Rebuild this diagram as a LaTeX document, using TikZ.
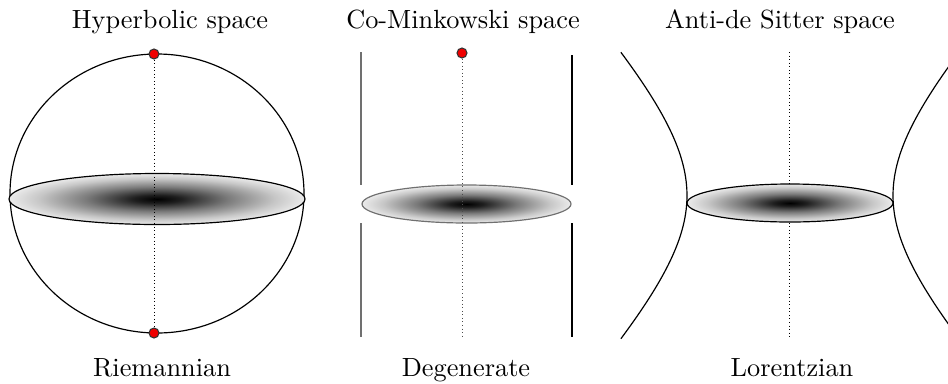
\documentclass[tikz,border=0pt]{standalone}
\usepackage{xcolor}
\usepackage{tikz}
\definecolor{GMDot}{HTML}{F00000}
\definecolor{GMGrey}{HTML}{707070}
\pgfdeclareradialshading{GMDisk}{\pgfpoint{0bp}{0bp}}{color(0bp)=(black); color(4bp)=(black!88); color(12bp)=(black!52); color(20bp)=(black!22); color(25bp)=(black!8); color(50bp)=(black!8)}

\begin{document}
\begin{tikzpicture}[x=0.38pt,y=-0.38pt]
\path[use as bounding box] (0,0) rectangle (948,383);
\tikzset{gmline/.style={line width=0.45pt},
  gmaxis/.style={densely dotted,line width=0.35pt},
  gmdot/.style={circle,fill=GMDot,draw=black!80,line width=0.4pt,inner sep=0pt,minimum size=3.8pt}}
\node[anchor=base] (tHyp) at (170,28) {Hyperbolic space};
\node[anchor=base] (tCoM) at (463,28) {Co-Minkowski space};
\node[anchor=base] (tAdS) at (780,28) {Anti-de Sitter space};
\node[anchor=base] (bRie) at (162,376) {Riemannian};
\node[anchor=base] (bDeg) at (466,376) {Degenerate};
\node[anchor=base] (bLor) at (792,376) {Lorentzian};
\draw[gmline] (157,193.5) ellipse (147 and 139.5);
\shade[shading=GMDisk] (157,199) ellipse (148 and 25.5);
\draw[gmline] (157,199) ellipse (148 and 25.5);
\node[gmdot] (nTop) at (154,54) {};
\node[gmdot] (nBot) at (154,333) {};
\draw[gmaxis] (nTop) -- (nBot);
\draw[gmline,GMGrey] (361,52) -- (361,337);
\draw[gmline] (572,55) -- (572,337);
\fill[white] (359,185) rectangle (574,223);
\shade[shading=GMDisk] (466.5,204) ellipse (104.5 and 19);
\draw[gmline,GMGrey] (466.5,204) ellipse (104.5 and 19);
\node[gmdot] (nCoM) at (462,53) {};
\coordinate (cCoM) at (462,337);
\draw[gmaxis,black!70] (nCoM) -- (cCoM);
\coordinate (cAdSa) at (789,52);
\coordinate (cAdSb) at (789,338);
\draw[gmaxis] (cAdSa) -- (cAdSb);
\begin{scope}
\clip (0,0) rectangle (948,383);
\draw[gmline] plot[domain=-1.08:1.08,variable=\t,samples=60,smooth] ({790-103*cosh(\t)},{195.5+110*sinh(\t)});
\draw[gmline] plot[domain=-1.08:1.08,variable=\t,samples=60,smooth] ({790+103*cosh(\t)},{195.5+110*sinh(\t)});
\end{scope}
\shade[shading=GMDisk] (790,203) ellipse (103 and 19);
\draw[gmline] (790,203) ellipse (103 and 19);
\end{tikzpicture}
\end{document}
